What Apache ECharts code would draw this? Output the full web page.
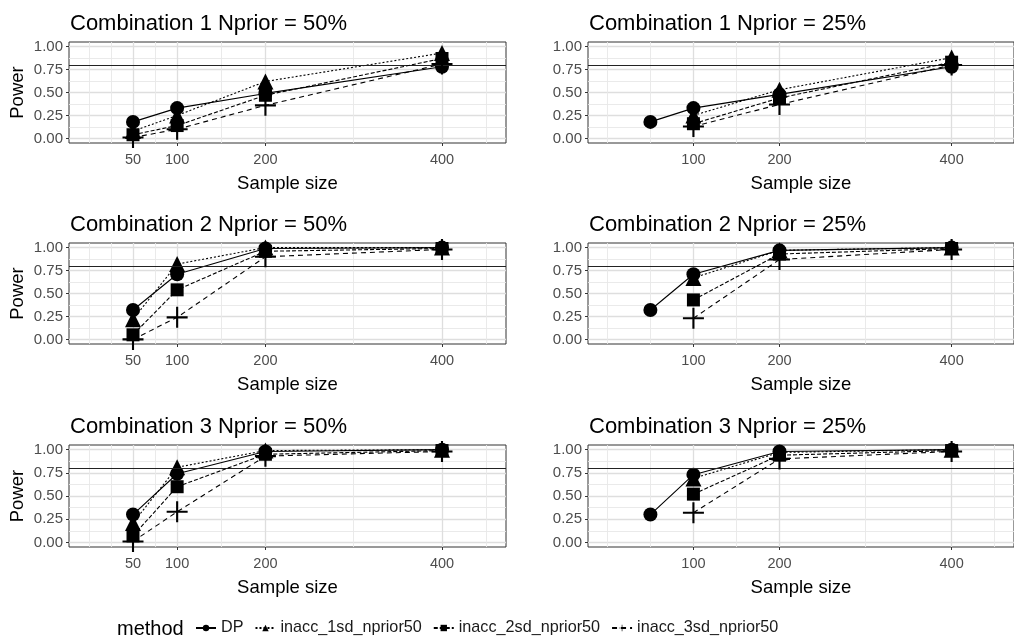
<!DOCTYPE html>
<html>
<head>
<meta charset="utf-8">
<title>Power by sample size</title>
<script src="https://cdn.jsdelivr.net/npm/echarts@6/dist/echarts.min.js"></script>
<style>
  html, body { margin: 0; padding: 0; background: #fff; }
  #main { width: 1014px; height: 639px; }
</style>
</head>
<body>
<div id="main"></div>
<script>
// sample sizes on the x axis and the four methods
const sampleSizes = [50, 100, 200, 400];
const methods = ['DP', 'inacc_1sd_nprior50', 'inacc_2sd_nprior50', 'inacc_3sd_nprior50'];

const panelTitles = [
  'Combination 1 Nprior = 50%', 'Combination 1 Nprior = 25%',
  'Combination 2 Nprior = 50%', 'Combination 2 Nprior = 25%',
  'Combination 3 Nprior = 50%', 'Combination 3 Nprior = 25%'
];

// axis breaks
const xBreaksLeft = [50, 100, 200, 400];
const xBreaksRight = [100, 200, 400];
const xMinorLeft = [0, 25, 75, 150, 300, 450];
const xMinorRight = [0, 50, 150, 300, 450];
const yBreaks = [0, 0.25, 0.5, 0.75, 1];
const yMinor = [0.125, 0.375, 0.625, 0.875];
const targetPower = 0.8;

// power, combination 1
const c1n50DP  = [0.18, 0.33, 0.49, 0.78];
const c1n50sd1 = [0.08, 0.25, 0.62, 0.93];
const c1n50sd2 = [0.04, 0.14, 0.47, 0.87];
const c1n50sd3 = [0.01, 0.10, 0.36, 0.81];
const c1n25DP  = [0.18, 0.33, 0.48, 0.78];
const c1n25sd1 = [null, 0.25, 0.53, 0.88];
const c1n25sd2 = [null, 0.16, 0.44, 0.83];
const c1n25sd3 = [null, 0.13, 0.37, 0.80];

// power, combination 2
const c2n50DP  = [0.32, 0.71, 0.99, 1.00];
const c2n50sd1 = [0.22, 0.82, 1.00, 1.00];
const c2n50sd2 = [0.05, 0.54, 0.96, 0.99];
const c2n50sd3 = [0.00, 0.24, 0.90, 0.98];
const c2n25DP  = [0.32, 0.71, 0.97, 1.00];
const c2n25sd1 = [null, 0.67, 0.97, 1.00];
const c2n25sd2 = [null, 0.43, 0.93, 0.99];
const c2n25sd3 = [null, 0.23, 0.87, 0.98];

// power, combination 3
const c3n50DP  = [0.30, 0.74, 0.98, 1.00];
const c3n50sd1 = [0.21, 0.81, 0.99, 1.00];
const c3n50sd2 = [0.07, 0.60, 0.95, 0.99];
const c3n50sd3 = [0.01, 0.33, 0.93, 0.98];
const c3n25DP  = [0.30, 0.73, 0.98, 1.00];
const c3n25sd1 = [null, 0.69, 0.97, 1.00];
const c3n25sd2 = [null, 0.52, 0.94, 0.99];
const c3n25sd3 = [null, 0.32, 0.90, 0.98];

const panelData = [
  [c1n50DP, c1n50sd1, c1n50sd2, c1n50sd3],
  [c1n25DP, c1n25sd1, c1n25sd2, c1n25sd3],
  [c2n50DP, c2n50sd1, c2n50sd2, c2n50sd3],
  [c2n25DP, c2n25sd1, c2n25sd2, c2n25sd3],
  [c3n50DP, c3n50sd1, c3n50sd2, c3n50sd3],
  [c3n25DP, c3n25sd1, c3n25sd2, c3n25sd3]
];

const plusPath = 'path://M-1,-10L1,-10L1,-1L10,-1L10,1L1,1L1,10L-1,10L-1,1L-10,1L-10,-1L-1,-1Z';
const symbols = ['circle', 'triangle', 'rect', plusPath];
const symbolSizes = [14, 16, 13, 21];
const dashes = ['solid', [2, 2], [4, 2], [5, 4]];

const font = 'Liberation Sans, Arial, sans-serif';
const gridLefts = [69, 588];
const gridTops = [42, 243, 445];
const gridHeights = [101, 101, 102];
const titleTops = [8, 209, 411];

const chart = echarts.init(document.getElementById('main'), null, { renderer: 'canvas' });

const grids = [], xAxes = [], yAxes = [], titles = [], series = [];

panelData.forEach(function (rows, p) {
  const col = p % 2, row = Math.floor(p / 2);
  grids.push({
    left: gridLefts[col], top: gridTops[row], width: 437, height: gridHeights[row],
    show: true, borderColor: '#333333', borderWidth: 1, backgroundColor: '#fff'
  });
  titles.push({
    text: panelTitles[p], left: gridLefts[col] - 4, top: titleTops[row],
    textStyle: { fontFamily: font, fontSize: 22, fontWeight: 'normal', color: '#000' }
  });
  const majors = col === 0 ? xBreaksLeft : xBreaksRight;
  const minors = col === 0 ? xMinorLeft : xMinorRight;
  // major x axis
  xAxes.push({
    type: 'value', gridIndex: p, min: -22.5, max: 472.5, position: 'bottom',
    name: 'Sample size', nameLocation: 'middle', nameGap: 31,
    nameTextStyle: { fontFamily: font, fontSize: 18.5, color: '#000' },
    axisLine: { show: false, onZero: false },
    axisTick: { show: true, length: 3, customValues: majors, lineStyle: { color: '#333' } },
    axisLabel: { customValues: majors, margin: 9, fontFamily: font, fontSize: 14.5, color: '#4d4d4d' },
    splitLine: { show: true, customValues: majors, lineStyle: { color: '#dedede', width: 1.3 } }
  });
  // minor x grid lines
  xAxes.push({
    type: 'value', gridIndex: p, min: -22.5, max: 472.5, position: 'bottom',
    axisLine: { show: false, onZero: false },
    axisTick: { show: false, customValues: minors },
    axisLabel: { show: false, customValues: minors },
    splitLine: { show: true, customValues: minors, lineStyle: { color: '#e8e8e8', width: 0.9 } }
  });
  yAxes.push({
    type: 'value', gridIndex: p, min: -0.05, max: 1.05, position: 'left',
    name: col === 0 ? 'Power' : '', nameLocation: 'middle', nameGap: 42,
    nameTextStyle: { fontFamily: font, fontSize: 18.5, color: '#000' },
    axisLine: { show: false, onZero: false },
    axisTick: { show: true, length: 3, customValues: yBreaks, lineStyle: { color: '#333' } },
    axisLabel: {
      customValues: yBreaks, margin: 6, fontFamily: font, fontSize: 15, color: '#4d4d4d',
      formatter: function (v) { return v.toFixed(2); }
    },
    splitLine: { show: true, customValues: yBreaks, lineStyle: { color: '#dedede', width: 1.3 } }
  });
  yAxes.push({
    type: 'value', gridIndex: p, min: -0.05, max: 1.05, position: 'left',
    axisLine: { show: false, onZero: false },
    axisTick: { show: false, customValues: yMinor },
    axisLabel: { show: false, customValues: yMinor },
    splitLine: { show: true, customValues: yMinor, lineStyle: { color: '#e8e8e8', width: 0.9 } }
  });

  rows.forEach(function (vals, m) {
    const s = {
      name: methods[m], type: 'line',
      xAxisIndex: 2 * p, yAxisIndex: 2 * p,
      data: sampleSizes.map(function (n, i) { return [n, vals[i]]; }).filter(function (d) { return d[1] !== null; }),
      symbol: symbols[m], symbolSize: symbolSizes[m], showSymbol: true,
      itemStyle: { color: '#000' },
      lineStyle: { color: '#000', width: 1.1, type: dashes[m] },
      clip: false, animation: false, z: 3 + m
    };
    if (m === 0) {
      s.markLine = {
        silent: true, symbol: 'none', animation: false,
        label: { show: false },
        lineStyle: { color: '#222', width: 1, type: 'solid' },
        data: [{ yAxis: targetPower }]
      };
    }
    series.push(s);
  });
});

titles.push({
  text: 'method', left: 112, top: 614,
  textStyle: { fontFamily: font, fontSize: 20, fontWeight: 'normal', color: '#000' }
});

const option = {
  backgroundColor: '#fff',
  animation: false,
  title: titles,
  grid: grids,
  xAxis: xAxes,
  yAxis: yAxes,
  legend: {
    data: methods, left: 195, top: 620, orient: 'horizontal',
    itemWidth: 20, itemHeight: 8, itemGap: 11, padding: 0,
    textStyle: { fontFamily: font, fontSize: 16.2, color: '#1a1a1a' }
  },
  series: series
};

chart.setOption(option);
</script>
</body>
</html>
